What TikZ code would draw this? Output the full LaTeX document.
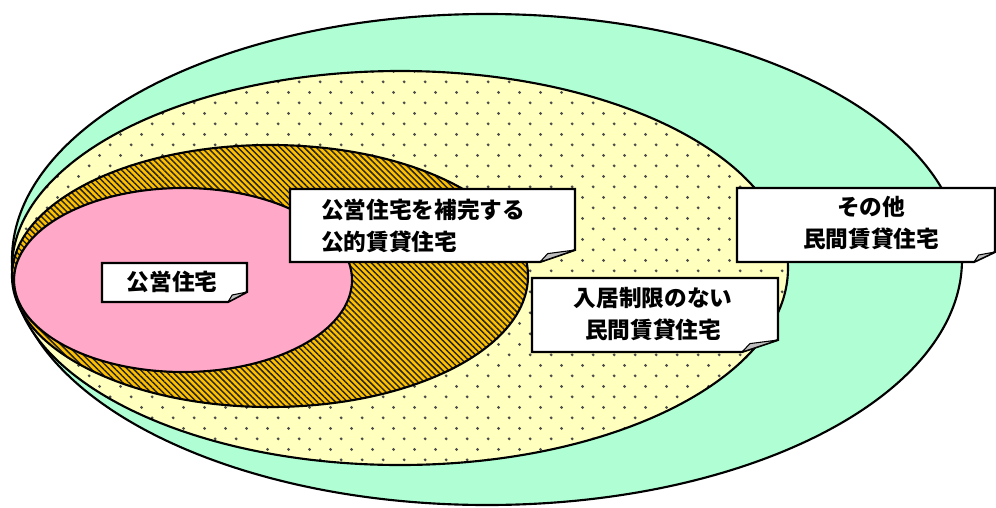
\documentclass[tikz,border=0pt]{standalone}
\usepackage{fontspec}
\newfontfamily\jp{Noto Sans CJK JP}
\usetikzlibrary{patterns,patterns.meta}
\pgfdeclarepatternformonly{sdots}{\pgfpointorigin}{\pgfpoint{16pt}{16pt}}{\pgfpoint{16pt}{16pt}}{%
  \pgfpathcircle{\pgfpoint{4pt}{4pt}}{1.2pt}%
  \pgfpathcircle{\pgfpoint{12pt}{12pt}}{1.2pt}%
  \pgfusepath{fill}}
\definecolor{cgreen}{RGB}{176,255,212}
\definecolor{cyellow}{RGB}{255,255,190}
\definecolor{corange}{RGB}{255,192,0}
\definecolor{cpink}{RGB}{255,168,200}
\definecolor{cflap}{RGB}{190,190,190}
\newcommand\foldbox[6]{%
  \filldraw[boxline] (#1,#2) -- (#3,#2) -- ({#3},{#4-#6}) -- ({#3-#5},{#4}) -- (#1,#4) -- cycle;
  \filldraw[flap] ({#3-#5},{#4}) -- ({#3-0.78*#5},{#4-0.7*#6}) -- ({#3},{#4-#6}) -- cycle;}
\begin{document}
\begin{tikzpicture}[x=0.75pt,y=-0.75pt,
  ring/.style={draw=black,line width=1.6pt},
  boxline/.style={draw=black,fill=white,line width=1.6pt,line join=miter},
  flap/.style={draw=black,fill=cflap,line width=0.8pt,line join=round},
  lbl/.style={font=\jp\bfseries\fontsize{17}{24}\selectfont,inner sep=0pt,align=center},
  ]
\useasboundingbox (0,0) rectangle (996,507);
\fill[white] (0,0) rectangle (996,507);
% outer green
\filldraw[ring,fill=cgreen] (487,259.5) ellipse [x radius=475,y radius=245.5];
% yellow dotted
\fill[cyellow] (400,268) ellipse [x radius=388,y radius=197];
\fill[pattern=sdots,pattern color=black!70] (400,268) ellipse [x radius=388,y radius=197];
\draw[ring] (400,268) ellipse [x radius=388,y radius=197];
% orange hatched
\fill[corange] (270,276) ellipse [x radius=258,y radius=131];
\fill[pattern={Lines[angle=-45,distance=3.2pt,line width=1.1pt]},pattern color=black!85] (270,276) ellipse [x radius=258,y radius=131];
\draw[ring] (270,276) ellipse [x radius=258,y radius=131];
% pink
\filldraw[ring,fill=cpink] (183,280) ellipse [x radius=169,y radius=92];
% boxes
\foldbox{102}{263}{247}{302}{19}{10}
\foldbox{290}{189}{575}{262}{35}{12}
\foldbox{532}{278}{778}{352}{36}{12}
\foldbox{737}{188}{995}{262}{21}{10}
% labels
\node[lbl] (koei) at (172,282) {公営住宅};
\node[lbl,align=left,anchor=west] (kotek) at (321,226) {公営住宅を補完する\\公的賃貸住宅};
\node[lbl] (minkan) at (653,314) {入居制限のない\\民間賃貸住宅};
\node[lbl] (sonota) at (871,223) {その他\\民間賃貸住宅};
\end{tikzpicture}
\end{document}
